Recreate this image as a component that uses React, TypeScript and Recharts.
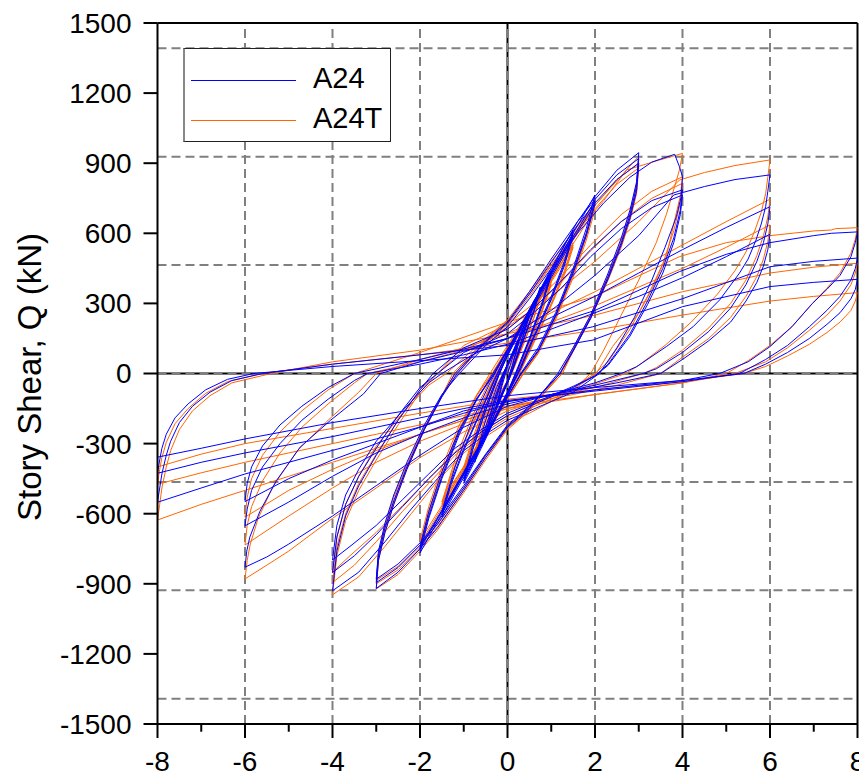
import React from 'react';
import { LineChart, Line, XAxis, YAxis, ReferenceLine, Label, Legend } from 'recharts';

// ---- axis ticks & grid ----
const xTicks = [-8, -6, -4, -2, 0, 2, 4, 6, 8];
const xMinorTicks = [-7, -5, -3, -1, 1, 3, 5, 7];
const yTicks = [-1500, -1200, -900, -600, -300, 0, 300, 600, 900, 1200, 1500];
const xGrid = [-6, -4, -2, 2, 4, 6];
const yGrid = [-1392, -928, -464, 464, 928, 1392];

// ---- A24 (blue) hysteresis, [drift, shear] ----
const a24Amp025 = [[0,0],[0.12,70],[0.25,130],[0.12,40],[0,-30],[-0.12,-80],[-0.25,-140],[-0.12,-50],[0,30],[0.12,80],[0.25,130],[0.12,40],[0,-30],[-0.12,-80],[-0.25,-135]];
const a24Amp05 = [[-0.1,-20],[0,40],[0.25,150],[0.5,260],[0.35,160],[0.15,40],[0,-40],[-0.25,-150],[-0.5,-270],[-0.35,-170],[-0.15,-40],[0,40],[0.25,145],[0.5,250],[0.35,150],[0.15,35],[0,-40],[-0.25,-150],[-0.5,-260]];
const a24Amp075 = [[-0.3,-110],[-0.1,0],[0.2,110],[0.5,240],[0.75,370],[0.6,270],[0.35,140],[0.1,10],[0,-40],[-0.3,-160],[-0.55,-270],[-0.75,-380],
  [-0.6,-280],[-0.35,-150],[-0.1,-10],[0,40],[0.3,155],[0.55,265],[0.75,360],[0.6,260],[0.35,135],[0.1,5],[0,-40],[-0.3,-155],[-0.55,-265],[-0.75,-370]];
const a24Amp1 = [[-0.5,-200],[-0.25,-60],[-0.1,0],[0.2,120],[0.5,260],[0.75,360],[1,440],
  [0.8,310],[0.5,150],[0.2,10],[0,-80],[-0.3,-200],[-0.6,-320],[-1,-470],
  [-0.8,-330],[-0.5,-160],[-0.2,-10],[0,80],[0.3,200],[0.6,310],[1,430],
  [0.8,300],[0.5,145],[0.2,5],[0,-80],[-0.3,-195],[-0.6,-310],[-1,-460],
  [-0.8,-325],[-0.5,-155],[-0.2,-5],[0,80],[0.3,195],[0.6,305],[1,420],
  [0.8,295],[0.5,140],[0.2,0],[0,-80],[-0.3,-190],[-0.6,-305],[-1,-450]];
const a24Amp15 = [[-0.8,-310],[-0.5,-140],[-0.2,0],[0.2,150],[0.6,300],[1,440],[1.25,530],[1.5,614],
  [1.3,480],[1,330],[0.6,160],[0.3,30],[0,-90],[-0.4,-240],[-0.8,-380],[-1.2,-510],[-1.5,-614],
  [-1.3,-480],[-1,-330],[-0.6,-160],[-0.3,-30],[0,90],[0.4,230],[0.8,370],[1.2,500],[1.5,600],
  [1.3,470],[1,320],[0.6,155],[0.3,25],[0,-90],[-0.4,-235],[-0.8,-370],[-1.2,-500],[-1.5,-600],
  [-1.3,-470],[-1,-320],[-0.6,-155],[-0.3,-25],[0,90],[0.4,225],[0.8,365],[1.2,490],[1.5,590],
  [1.3,460],[1,315],[0.6,150],[0.3,20],[0,-90],[-0.4,-230],[-0.8,-365],[-1.2,-490],[-1.5,-590]];
const a24Amp2 = [[-1.2,-400],[-0.8,-200],[-0.4,-40],[0,100],[0.5,270],[1,430],[1.5,600],[2,764],
  [1.8,620],[1.5,450],[1.1,260],[0.7,110],[0.3,0],[0,-100],[-0.5,-270],[-1,-430],[-1.5,-600],[-2,-768],
  [-1.8,-620],[-1.5,-450],[-1.1,-260],[-0.7,-110],[-0.3,0],[0,100],[0.5,260],[1,420],[1.5,585],[2,740],
  [1.8,600],[1.5,440],[1.1,250],[0.7,100],[0.3,-5],[0,-100],[-0.5,-265],[-1,-425],[-1.5,-590],[-2,-750],
  [-1.8,-610],[-1.5,-440],[-1.1,-250],[-0.7,-105],[-0.3,0],[0,100],[0.5,255],[1,410],[1.5,575],[2,725],
  [1.8,590],[1.5,430],[1.1,245],[0.7,95],[0.3,-5],[0,-100],[-0.5,-260],[-1,-420],[-1.5,-585],[-2,-740]];
const a24Amp3 = [[-1.8,-590],[-1.5,-420],[-1.1,-240],[-0.6,-80],[-0.2,40],[0.3,200],[1,450],[1.6,650],[2,757],[2.5,870],[3,945],
  [2.95,820],[2.8,700],[2.6,580],[2.3,430],[1.9,250],[1.5,110],[1.15,0],[0.5,-150],[0,-230],[-0.5,-360],[-1,-500],[-1.6,-660],[-2,-750],[-2.5,-850],[-3,-920],
  [-2.95,-800],[-2.8,-680],[-2.6,-560],[-2.3,-410],[-1.9,-240],[-1.5,-100],[-1.15,0],[-0.5,140],[0,220],[0.5,350],[1,490],[1.6,650],[2,745],[2.5,850],[3,920],
  [2.95,800],[2.8,680],[2.6,560],[2.3,415],[1.9,240],[1.5,100],[1.2,0],[0.5,-145],[0,-225],[-0.5,-350],[-1,-490],[-1.6,-645],[-2,-735],[-2.5,-830],[-3,-895],
  [-2.95,-780],[-2.8,-660],[-2.6,-545],[-2.3,-400],[-1.9,-235],[-1.5,-95],[-1.2,0],[-0.5,135],[0,215],[0.5,340],[1,475],[1.6,635],[2,730],[2.5,830],[3,900],
  [2.95,780],[2.8,665],[2.6,550],[2.3,405],[1.9,235],[1.5,95],[1.2,0],[0.5,-140],[0,-220],[-0.5,-345],[-1,-480],[-1.6,-635],[-2,-725],[-2.5,-815],[-3,-880]];
const a24Amp4 = [[-2.95,-760],[-2.8,-640],[-2.6,-520],[-2.3,-380],[-1.9,-220],[-1.5,-90],[-1.1,0],[-0.5,120],[0,200],[0.5,320],[1,450],[1.6,600],[2.2,730],[2.8,840],[3.3,905],[3.82,938],[3.93,885],[4,842],
  [3.97,757],[3.86,671],[3.6,540],[3.3,400],[2.9,240],[2.5,110],[2.1,0],[1.5,-80],[1,-120],[0.5,-160],[0,-200],[-0.5,-260],[-1,-330],[-1.6,-450],[-2.2,-580],[-2.8,-720],[-3.4,-850],[-4,-930],
  [-3.9,-760],[-3.7,-610],[-3.4,-480],[-3,-350],[-2.5,-200],[-2,-70],[-1.7,0],[-1,110],[0,190],[0.6,280],[1.2,390],[1.9,530],[2.6,650],[3.3,740],[4,786],
  [3.95,700],[3.8,580],[3.55,450],[3.2,310],[2.8,170],[2.3,40],[2,-10],[1.5,-60],[1,-100],[0,-180],[-0.6,-250],[-1.2,-340],[-1.8,-450],[-2.4,-570],[-3,-690],[-3.5,-780],[-4,-852],
  [-3.9,-700],[-3.7,-560],[-3.4,-440],[-3,-320],[-2.5,-180],[-2,-60],[-1.6,0],[-1,90],[0,170],[0.6,260],[1.2,360],[1.9,500],[2.6,620],[3.3,710],[4,764],
  [3.95,680],[3.8,560],[3.55,430],[3.2,295],[2.8,160],[2.3,35],[2,-10],[1.5,-55],[1,-95],[0,-170],[-0.6,-240],[-1.2,-320],[-1.8,-430],[-2.4,-540],[-3,-650],[-3.6,-740],[-4,-798]];
const a24Amp6 = [[-3.9,-650],[-3.7,-520],[-3.4,-410],[-3,-290],[-2.4,-160],[-1.8,-40],[-1.5,0],[-0.8,80],[0,150],[1,270],[2,420],[3,590],[3.8,764],[4.5,800],[5.2,830],[6,850],
  [5.95,780],[5.9,714],[5.8,640],[5.68,571],[5.5,490],[5.3,429],[4.85,315],[4.24,200],[3.63,115],[2.95,29],[2.6,0],[2,-40],[1,-90],[0,-140],[-1,-230],[-2,-350],[-3,-480],[-4,-610],[-5,-730],[-5.5,-785],[-6,-829],
  [-5.96,-760],[-5.89,-700],[-5.66,-590],[-5.28,-458],[-4.74,-315],[-4.05,-201],[-3.29,-87],[-2.9,0],[-2,50],[-1,95],[0,150],[1,240],[2,330],[3,430],[4,530],[5,625],[6,714],
  [5.95,640],[5.85,560],[5.7,480],[5.45,380],[5.1,280],[4.6,180],[4,90],[3.4,20],[3.1,0],[2,-50],[1,-90],[0,-130],[-1,-190],[-2,-260],[-3,-340],[-4,-440],[-5,-550],[-6,-652],
  [-5.95,-580],[-5.85,-500],[-5.6,-400],[-5.2,-300],[-4.7,-200],[-4.1,-110],[-3.5,-30],[-3.2,0],[-2,40],[-1,80],[0,125],[1,190],[2,260],[3,330],[4,410],[5,500],[6,596],
  [5.95,530],[5.85,460],[5.7,390],[5.45,310],[5.1,220],[4.6,140],[4,60],[3.5,0],[2.5,-40],[1.5,-75],[0,-120],[-1,-170],[-2,-230],[-3,-300],[-4,-370],[-5,-450],[-6,-548]];
const a24Amp8 = [[-5.95,-470],[-5.85,-400],[-5.6,-310],[-5.2,-220],[-4.7,-140],[-4.1,-60],[-3.5,0],[-2,60],[0,150],[2,270],[3.93,436],[5,510],[6,560],[7,590],[7.4,600],[8,606],
  [7.95,560],[7.85,500],[7.6,420],[7.3,360],[6.97,300],[6.5,200],[6,115],[5.5,50],[4.85,0],[4,-30],[3,-50],[2,-70],[1,-95],[0,-120],[-1,-160],[-2,-229],[-3,-280],[-4,-329],[-5,-380],[-6,-430],[-7,-490],[-8,-551],
  [-7.95,-490],[-7.9,-430],[-7.8,-350],[-7.7,-290],[-7.5,-210],[-7.2,-140],[-6.8,-80],[-6.3,-30],[-5.6,0],[-4,40],[-2,80],[0,120],[1.95,200],[4,320],[6,457],[7,480],[8,494],
  [7.95,450],[7.85,400],[7.6,330],[7.3,270],[6.9,200],[6.4,120],[5.9,60],[5.3,0],[4,-35],[3,-55],[2,-75],[1,-95],[0,-115],[-1,-150],[-2,-190],[-3,-230],[-4,-270],[-5,-305],[-6,-340],[-7,-380],[-8,-427],
  [-7.95,-370],[-7.9,-320],[-7.8,-260],[-7.6,-190],[-7.3,-130],[-6.9,-70],[-6.4,-25],[-5.8,0],[-4,30],[-2,55],[0,80],[1.95,143],[4,286],[6,372],[7,390],[8,403],
  [7.95,360],[7.85,320],[7.6,260],[7.3,210],[6.9,150],[6.4,90],[5.9,40],[5.4,0],[4,-30],[2,-60],[0,-95],[-2,-150],[-4,-210],[-6,-280],[-7,-320],[-8,-358]];

// ---- A24T (orange) hysteresis, [drift, shear] ----
const a24tAmp025 = [[0,0],[0.12,55],[0.25,110],[0.12,30],[0,-30],[-0.12,-70],[-0.25,-120],[-0.12,-40],[0,30],[0.12,65],[0.25,110],[0.12,30],[0,-30],[-0.12,-70],[-0.25,-118]];
const a24tAmp05 = [[-0.1,-20],[0,40],[0.25,130],[0.5,220],[0.35,130],[0.15,30],[0,-40],[-0.25,-140],[-0.5,-230],[-0.35,-140],[-0.15,-30],[0,40],[0.25,130],[0.5,218],[0.35,128],[0.15,28],[0,-40],[-0.25,-138],[-0.5,-228]];
const a24tAmp075 = [[-0.3,-100],[-0.1,0],[0.2,100],[0.5,220],[0.75,330],[0.6,240],[0.35,120],[0.1,5],[0,-40],[-0.3,-150],[-0.55,-250],[-0.75,-340],
  [-0.6,-250],[-0.35,-130],[-0.1,-5],[0,40],[0.3,145],[0.55,245],[0.75,325],[0.6,235],[0.35,118],[0.1,0],[0,-40],[-0.3,-145],[-0.55,-245],[-0.75,-335]];
const a24tAmp1 = [[-0.5,-180],[-0.25,-50],[-0.1,0],[0.2,110],[0.5,235],[0.75,325],[1,400],
  [0.8,280],[0.5,130],[0.2,0],[0,-80],[-0.3,-190],[-0.6,-300],[-1,-420],
  [-0.8,-300],[-0.5,-140],[-0.2,-5],[0,80],[0.3,185],[0.6,285],[1,390],
  [0.8,275],[0.5,125],[0.2,-5],[0,-80],[-0.3,-185],[-0.6,-290],[-1,-410],
  [-0.8,-295],[-0.5,-135],[-0.2,0],[0,80],[0.3,180],[0.6,280],[1,380],
  [0.8,270],[0.5,120],[0.2,-5],[0,-80],[-0.3,-180],[-0.6,-285],[-1,-400]];
const a24tAmp15 = [[-0.8,-280],[-0.5,-120],[-0.2,10],[0.2,150],[0.6,280],[1,400],[1.25,480],[1.5,560],
  [1.3,440],[1,300],[0.6,140],[0.3,20],[0,-90],[-0.4,-220],[-0.8,-350],[-1.2,-470],[-1.5,-570],
  [-1.3,-450],[-1,-300],[-0.6,-140],[-0.3,-20],[0,90],[0.4,215],[0.8,340],[1.2,460],[1.5,550],
  [1.3,430],[1,295],[0.6,135],[0.3,15],[0,-90],[-0.4,-215],[-0.8,-345],[-1.2,-460],[-1.5,-560],
  [-1.3,-440],[-1,-295],[-0.6,-135],[-0.3,-15],[0,90],[0.4,210],[0.8,335],[1.2,450],[1.5,540],
  [1.3,420],[1,290],[0.6,130],[0.3,10],[0,-90],[-0.4,-210],[-0.8,-340],[-1.2,-455],[-1.5,-550]];
const a24tAmp2 = [[-1.2,-370],[-0.8,-180],[-0.4,-30],[0,110],[0.5,270],[1,420],[1.5,580],[2,740],
  [1.8,600],[1.5,430],[1.1,240],[0.7,95],[0.35,0],[0,-110],[-0.5,-270],[-1,-430],[-1.5,-590],[-2,-750],
  [-1.8,-600],[-1.5,-430],[-1.1,-240],[-0.7,-95],[-0.35,0],[0,110],[0.5,260],[1,410],[1.5,570],[2,720],
  [1.8,585],[1.5,420],[1.1,235],[0.7,90],[0.35,-5],[0,-110],[-0.5,-265],[-1,-420],[-1.5,-575],[-2,-730],
  [-1.8,-590],[-1.5,-420],[-1.1,-235],[-0.7,-90],[-0.35,0],[0,105],[0.5,250],[1,400],[1.5,555],[2,700],
  [1.8,570],[1.5,410],[1.1,230],[0.7,85],[0.35,-5],[0,-105],[-0.5,-260],[-1,-410],[-1.5,-565],[-2,-715]];
const a24tAmp3 = [[-1.8,-570],[-1.5,-400],[-1.1,-220],[-0.6,-60],[-0.2,60],[0.3,210],[1,440],[1.6,620],[2,720],[2.72,871],[3,930],
  [2.95,810],[2.8,690],[2.6,570],[2.3,420],[1.9,250],[1.5,110],[1.2,0],[0.5,-160],[0,-240],[-0.5,-370],[-1,-510],[-1.6,-670],[-2,-760],[-2.5,-860],[-3,-922],
  [-2.95,-800],[-2.8,-680],[-2.6,-560],[-2.3,-410],[-1.9,-240],[-1.5,-100],[-1.2,0],[-0.5,150],[0,230],[0.5,350],[1,480],[1.6,630],[2,720],[2.5,830],[3,900],
  [2.95,785],[2.8,670],[2.6,555],[2.3,410],[1.9,240],[1.5,100],[1.25,0],[0.5,-155],[0,-235],[-0.5,-360],[-1,-500],[-1.6,-655],[-2,-745],[-2.5,-840],[-3,-900],
  [-2.95,-785],[-2.8,-665],[-2.6,-550],[-2.3,-400],[-1.9,-235],[-1.5,-95],[-1.25,0],[-0.5,145],[0,225],[0.5,340],[1,465],[1.6,615],[2,705],[2.5,810],[3,880],
  [2.95,770],[2.8,655],[2.6,540],[2.3,400],[1.9,235],[1.5,95],[1.25,0],[0.5,-150],[0,-230],[-0.5,-350],[-1,-490],[-1.6,-645],[-2,-735],[-2.5,-825],[-3,-885]];
const a24tAmp4 = [[-2.95,-770],[-2.8,-650],[-2.6,-530],[-2.3,-390],[-1.9,-230],[-1.5,-95],[-1.15,0],[-0.5,130],[0,210],[0.5,330],[1,460],[1.6,610],[2.2,740],[2.72,871],[3.48,914],[4,942],
  [3.93,871],[3.82,800],[3.63,680],[3.4,560],[3,400],[2.6,250],[2.2,100],[1.9,0],[1.5,-70],[1,-120],[0.5,-170],[0,-210],[-0.5,-270],[-1,-340],[-1.6,-460],[-2.2,-600],[-2.8,-740],[-3.4,-870],[-4,-947],
  [-3.9,-780],[-3.7,-630],[-3.4,-500],[-3,-370],[-2.5,-220],[-2,-80],[-1.6,0],[-1,120],[0,210],[0.6,300],[1.2,410],[1.9,550],[2.6,680],[3.3,780],[4,842],
  [3.95,760],[3.8,640],[3.63,500],[3.3,360],[3,258],[2.4,115],[2.03,0],[1.5,-70],[1,-110],[0,-190],[-0.6,-260],[-1.2,-350],[-1.8,-470],[-2.4,-590],[-3,-720],[-3.5,-820],[-4,-895],
  [-3.9,-740],[-3.7,-600],[-3.4,-470],[-3,-345],[-2.5,-200],[-2,-70],[-1.6,0],[-1,100],[0,190],[0.6,280],[1.2,385],[1.9,525],[2.6,650],[3.3,750],[4,814],
  [3.95,730],[3.8,610],[3.55,470],[3.2,330],[2.8,190],[2.3,50],[2,0],[1.5,-60],[1,-100],[0,-180],[-0.6,-250],[-1.2,-335],[-1.8,-450],[-2.4,-565],[-3,-680],[-3.6,-780],[-4,-850]];
const a24tAmp6 = [[-3.9,-700],[-3.7,-560],[-3.4,-440],[-3,-310],[-2.4,-170],[-1.8,-50],[-1.4,0],[-0.8,100],[0,200],[1,330],[2,480],[3,650],[3.93,828],[4.5,860],[5.2,890],[6,914],
  [5.95,840],[5.9,770],[5.8,690],[5.65,610],[5.45,520],[5.2,440],[4.8,340],[4.2,220],[3.6,120],[3,35],[2.7,0],[2,-45],[1,-100],[0,-160],[-1,-250],[-2,-360],[-3,-490],[-4,-620],[-5,-760],[-5.5,-820],[-6,-879],
  [-5.95,-800],[-5.88,-730],[-5.7,-620],[-5.35,-480],[-4.8,-330],[-4.1,-200],[-3.4,-80],[-3,0],[-2,60],[-1,110],[0,170],[1,260],[2,350],[3,450],[4,550],[5,650],[6,746],
  [5.95,670],[5.85,590],[5.7,505],[5.45,400],[5.1,300],[4.6,195],[4,100],[3.4,25],[3.1,0],[2,-60],[1,-100],[0,-150],[-1,-215],[-2,-290],[-3,-380],[-4,-490],[-5,-610],[-6,-734],
  [-5.95,-650],[-5.85,-570],[-5.6,-460],[-5.2,-340],[-4.7,-230],[-4.1,-130],[-3.5,-40],[-3.2,0],[-2,50],[-1,100],[0,150],[1,220],[2,290],[3,370],[4,450],[5,540],[6,636],
  [5.95,565],[5.85,490],[5.7,415],[5.45,330],[5.1,240],[4.6,150],[4,70],[3.5,0],[2.5,-50],[1.5,-90],[0,-140],[-1,-200],[-2,-260],[-3,-330],[-4,-410],[-5,-500],[-6,-615]];
const a24tAmp8 = [[-5.95,-530],[-5.85,-450],[-5.6,-350],[-5.2,-250],[-4.7,-160],[-4.1,-70],[-3.5,0],[-2,90],[0,220],[2,330],[3.93,500],[5,560],[6,590],[7,610],[7.4,614],[7.5,620],[8,624],
  [7.95,575],[7.85,515],[7.6,430],[7.3,365],[6.97,300],[6.5,200],[6,120],[5.5,55],[5,0],[4,-40],[3,-65],[2,-90],[1,-120],[0,-150],[-1,-200],[-2,-260],[-3,-320],[-4,-380],[-5,-440],[-6,-500],[-7,-560],[-8,-627],
  [-7.95,-560],[-7.9,-490],[-7.8,-400],[-7.7,-330],[-7.5,-240],[-7.2,-160],[-6.8,-95],[-6.3,-40],[-5.4,0],[-4,50],[-2,100],[0,170],[2,250],[4,350],[6,430],[7,455],[8,472],
  [7.95,430],[7.85,380],[7.6,310],[7.3,250],[6.9,185],[6.4,110],[5.9,50],[5.2,0],[4,-40],[3,-65],[2,-90],[1,-115],[0,-140],[-1,-180],[-2,-220],[-3,-260],[-4,-300],[-5,-340],[-6,-380],[-7,-425],[-8,-474],
  [-7.95,-410],[-7.9,-360],[-7.8,-295],[-7.6,-215],[-7.3,-150],[-6.9,-85],[-6.4,-35],[-5.6,0],[-4,40],[-2,80],[0,130],[2,185],[4,250],[6,310],[7,330],[8,346],
  [7.95,310],[7.85,270],[7.6,220],[7.3,175],[6.9,125],[6.4,75],[5.9,30],[5.4,0],[4,-35],[2,-70],[0,-110],[-2,-170],[-4,-235],[-6,-300],[-7,-345],[-8,-400]];

const toPts = (groups: number[][][]) => groups.flat().map(([x, y]) => ({ x, y }));
const a24Data = toPts([a24Amp025, a24Amp05, a24Amp075, a24Amp1, a24Amp15, a24Amp2, a24Amp3, a24Amp4, a24Amp6, a24Amp8]);
const a24tData = toPts([a24tAmp025, a24tAmp05, a24tAmp075, a24tAmp1, a24tAmp15, a24tAmp2, a24tAmp3, a24tAmp4, a24tAmp6, a24tAmp8]);

const BLUE = '#0000ff';
const ORANGE = '#ff6600';
const FONT = '"Liberation Sans", Arial, Helvetica, sans-serif';
const GRID = '#808080';

const YTitle = () => (
  <text x={40.5} y={377} transform="rotate(-90 40.5 377)" textAnchor="middle"
    style={{ fontFamily: FONT, fontSize: 33, fill: '#000' }}>Story Shear, Q (kN)</text>
);

const legendItems = [
  { name: 'A24', color: BLUE },
  { name: 'A24T', color: ORANGE },
];

const LegendBox = () => (
  <div style={{ position: 'absolute', left: 183, top: 48, width: 208, height: 94, boxSizing: 'border-box',
    border: '1px solid #222', borderLeft: '2px solid #888', background: '#fff', fontFamily: FONT }}>
    {legendItems.map((it, i) => (
      <div key={it.name} style={{ position: 'absolute', left: 0, top: 11 + i * 40, height: 40, width: 206 }}>
        <div style={{ position: 'absolute', left: 6, top: 20, width: 105, height: 1.3, background: it.color }} />
        <div style={{ position: 'absolute', left: 128, top: 1, fontSize: 29, lineHeight: '34px', color: '#000',
          whiteSpace: 'nowrap' }}>{it.name}</div>
      </div>
    ))}
  </div>
);

export default function App() {
  return (
    <div style={{ position: 'fixed', left: 0, top: 0, width: 859, height: 776, overflow: 'hidden', background: '#fff' }}>
      <LineChart width={900} height={776} margin={{ top: 23, right: 42.5, left: 0, bottom: 0 }}>
        <XAxis type="number" dataKey="x" domain={[-8, 8]} ticks={xTicks} interval={0} height={52}
          tickSize={14} tickMargin={13}
          axisLine={{ stroke: '#000', strokeWidth: 2 }} tickLine={{ stroke: '#000', strokeWidth: 2 }}
          tick={{ fill: '#000', fontSize: 28, fontFamily: FONT }} allowDataOverflow />
        <YAxis type="number" dataKey="y" domain={[-1500, 1500]} ticks={yTicks} interval={0} width={157.5}
          tickSize={14} tickMargin={12}
          axisLine={{ stroke: '#000', strokeWidth: 2 }} tickLine={{ stroke: '#000', strokeWidth: 2 }}
          tick={{ fill: '#000', fontSize: 28, fontFamily: FONT }} allowDataOverflow>
          <Label content={<YTitle />} />
        </YAxis>
        {xGrid.map((v) => (
          <ReferenceLine key={'gx' + v} x={v} stroke={GRID} strokeWidth={2} strokeDasharray="9 5" />
        ))}
        {yGrid.map((v) => (
          <ReferenceLine key={'gy' + v} y={v} stroke={GRID} strokeWidth={2} strokeDasharray="9 5" />
        ))}
        <ReferenceLine x={0} stroke="#000" strokeWidth={2} />
        <ReferenceLine y={0} stroke="#000" strokeWidth={2} />
        <ReferenceLine x={0} stroke={GRID} strokeWidth={2} strokeDasharray="9 5" />
        <ReferenceLine y={0} stroke={GRID} strokeWidth={2} strokeDasharray="9 5" />
        <ReferenceLine y={1500} stroke="#000" strokeWidth={2} />
        <ReferenceLine x={8} stroke="#000" strokeWidth={2} />
        {xMinorTicks.map((v) => (
          <ReferenceLine key={'mt' + v} segment={[{ x: v, y: -1500 }, { x: v, y: -1533 }]}
            stroke="#000" strokeWidth={2} ifOverflow="visible" />
        ))}
        <Line data={a24tData} dataKey="y" name="A24T" stroke={ORANGE} strokeWidth={1} dot={false}
          activeDot={false} isAnimationActive={false} type="linear" />
        <Line data={a24Data} dataKey="y" name="A24" stroke={BLUE} strokeWidth={1} dot={false}
          activeDot={false} isAnimationActive={false} type="linear" />
        <Legend layout="vertical" align="center" verticalAlign="middle" content={<LegendBox />}
          wrapperStyle={{ left: 0, top: 0, width: 0, height: 0 }} />
      </LineChart>
    </div>
  );
}
